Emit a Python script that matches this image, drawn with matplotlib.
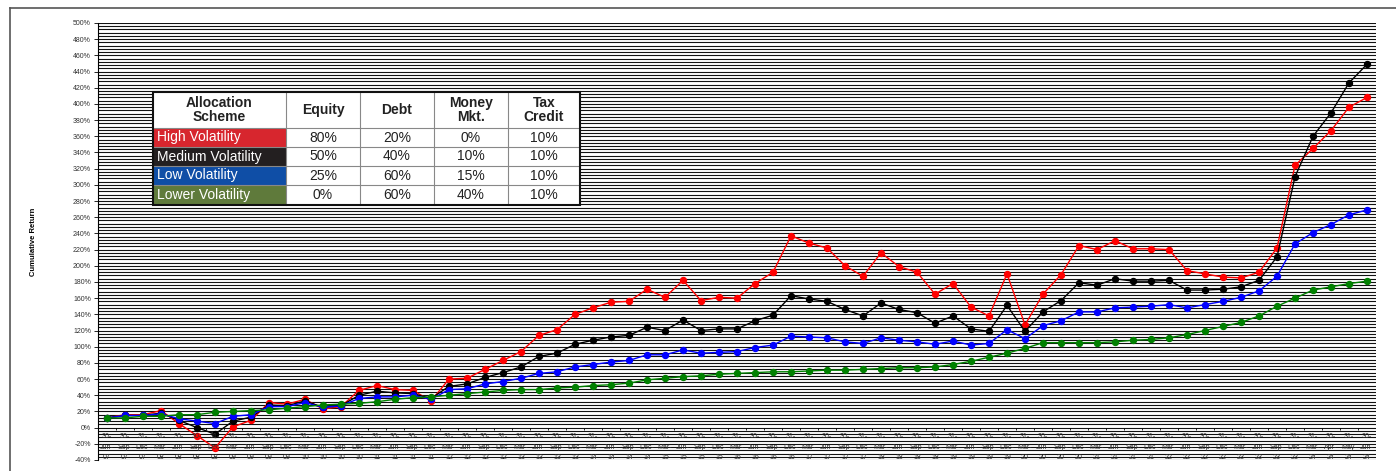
import numpy as np
import matplotlib
matplotlib.use('Agg')
import matplotlib.pyplot as plt
from matplotlib.patches import Rectangle
from matplotlib.lines import Line2D

# quarter end dates shown under the axis
days = ['30-', '30-', '31-', '31-'] * 17
months = ['Jun-', 'Sep-', 'Dec-', 'Mar-'] * 17
years = ['07', '07', '07'] + ['%02d' % y for y in range(8, 24) for _ in range(4)]
days = days[:68] + ['30-', '31-', '30-']
months = months[:67] + ['Mar-', 'Apr-', 'May-', 'Jun-']
years = years[:67] + ['24', '24', '24', '24']

high_vol = [12, 16, 16, 21, 5, -10, -25, 1, 9, 31, 29, 35, 23, 26, 46, 52, 47, 46, 33, 60,
            61, 72, 83, 94, 114, 121, 140, 148, 155, 156, 171, 161, 182, 157, 161, 160, 178, 192, 237, 228,
            222, 200, 187, 216, 199, 192, 165, 178, 149, 138, 190, 127, 165, 189, 225, 220, 231, 221, 221, 220,
            194, 190, 186, 185, 192, 222, 324, 345, 367, 396, 408]
medium_vol = [12, 15, 15, 18, 9, 0, -8, 8, 13, 28, 27, 33, 25, 27, 40, 45, 43, 42, 36, 51,
              54, 62, 68, 75, 88, 92, 103, 108, 112, 114, 124, 120, 133, 120, 122, 122, 132, 139, 163, 159,
              156, 146, 138, 154, 146, 142, 129, 138, 122, 119, 151, 119, 143, 157, 179, 176, 184, 181, 181, 182,
              170, 170, 171, 174, 182, 211, 310, 360, 389, 426, 449]
low_vol = [12, 15, 15, 17, 11, 8, 5, 14, 16, 26, 26, 31, 25, 27, 36, 38, 38, 40, 35, 47,
           48, 54, 57, 61, 67, 69, 75, 78, 81, 83, 90, 90, 96, 92, 93, 94, 99, 102, 113, 112,
           111, 106, 104, 111, 108, 106, 103, 107, 102, 104, 121, 110, 126, 132, 143, 143, 148, 149, 150, 152,
           148, 152, 156, 161, 169, 187, 227, 241, 251, 263, 269]
lower_vol = [12, 12, 14, 14, 16, 16, 19, 20, 21, 22, 24, 26, 28, 29, 30, 32, 35, 37, 38, 40,
             42, 44, 46, 47, 47, 49, 50, 52, 53, 55, 59, 61, 63, 64, 66, 67, 68, 69, 69, 70,
             71, 71, 72, 73, 74, 74, 75, 78, 82, 87, 92, 98, 105, 105, 105, 105, 106, 108, 109, 111,
             115, 120, 125, 130, 138, 150, 160, 170, 174, 178, 181]

# allocation table
schemes = ['High Volatility', 'Medium Volatility', 'Low Volatility', 'Lower Volatility']
scheme_colors = ['#d7262e', '#231f20', '#0f4ea6', '#5f7a3b']
equity = ['80%', '50%', '25%', '0%']
debt = ['20%', '40%', '60%', '60%']
money_mkt = ['0%', '10%', '15%', '40%']
tax_credit = ['10%', '10%', '10%', '10%']
headers = ['Allocation\nScheme', 'Equity', 'Debt', 'Money\nMkt.', 'Tax\nCredit']

W, H = 1396, 471


def px(x, y):
    return x / W, 1 - y / H


def main():
    plt.rcParams['font.family'] = ['Liberation Sans', 'DejaVu Sans']
    fig = plt.figure(figsize=(W / 100, H / 100), dpi=100)
    l, t = px(98, 23)
    r, b = px(1376, 460)
    ax = fig.add_axes([l, b, r - l, t - b])

    n = len(high_vol)
    x = np.arange(n)

    # dense horizontal gridlines
    for g in np.arange(-40, 501, 4):
        ax.axhline(g, color='#111111', lw=0.8, zorder=1)

    ax.plot(x, high_vol, color='#ff0000', marker='o', ms=4.3, lw=1, zorder=3)
    ax.plot(x, medium_vol, color='black', marker='o', ms=4.3, lw=1, zorder=3)
    ax.plot(x, low_vol, color='#0000ff', marker='o', ms=4.3, lw=1, zorder=3)
    ax.plot(x, lower_vol, color='#008000', marker='o', ms=4.3, lw=1, zorder=3)

    ax.set_xlim(-0.5, n - 0.5)
    ax.set_ylim(-40, 500)
    ax.set_yticks(np.arange(-40, 501, 20))
    ax.set_yticklabels(['%d%%' % v for v in np.arange(-40, 501, 20)], fontsize=5, color='#333333')
    ax.tick_params(axis='y', length=3, width=0.6, pad=2)
    ax.set_xticks([])
    for s in ['top', 'right', 'bottom']:
        ax.spines[s].set_visible(False)
    ax.spines['left'].set_linewidth(0.8)

    # category axis at 0% with labels inside the negative area
    ax.vlines(np.arange(n) + 0.5, -3.5, 0, color='black', lw=0.6, zorder=2)
    for i in range(n):
        ax.text(i, -11.5, days[i], ha='center', va='center', fontsize=5, color='#333333', zorder=4)
        ax.text(i, -24.5, months[i], ha='center', va='center', fontsize=5, color='#333333', zorder=4)
        ax.text(i, -37.2, years[i], ha='center', va='center', fontsize=5, color='#333333', zorder=4)

    ax.set_ylabel('Cumulative Return', fontsize=5.5, fontweight='bold', labelpad=26)

    # outer chart border
    fig.add_artist(Line2D([10 / W, 10 / W], [0, 1 - 8 / H], color='#555555', lw=1.2))
    fig.add_artist(Line2D([10 / W, 1], [1 - 8 / H, 1 - 8 / H], color='#555555', lw=1.2))

    # allocation table
    cols = [153, 286, 360, 434, 508, 580]
    rows = [92, 128, 147, 166, 185, 205]
    x0, y0 = px(cols[0], rows[-1])
    x1, y1 = px(cols[-1], rows[0])
    fig.add_artist(Rectangle((x0, y0), x1 - x0, y1 - y0, facecolor='white', edgecolor='none', zorder=5))
    for j, h in enumerate(headers):
        cx, cy = px((cols[j] + cols[j + 1]) / 2, (rows[0] + rows[1]) / 2)
        fig.text(cx, cy, h, ha='center', va='center', fontsize=10, fontweight='bold',
                 linespacing=0.95, color='#222222', zorder=7)
    table_cols = [equity, debt, money_mkt, tax_credit]
    for i, sch in enumerate(schemes):
        rx, ry = px(cols[0], rows[i + 2])
        rx2, ry2 = px(cols[1], rows[i + 1])
        fig.add_artist(Rectangle((rx, ry), rx2 - rx, ry2 - ry, facecolor=scheme_colors[i],
                                 edgecolor='none', zorder=6))
        tx, ty = px(cols[0] + 4, (rows[i + 1] + rows[i + 2]) / 2)
        fig.text(tx, ty, sch, ha='left', va='center', fontsize=10, color='white', zorder=7)
        for j, colvals in enumerate(table_cols):
            cx, cy = px((cols[j + 1] + cols[j + 2]) / 2, (rows[i + 1] + rows[i + 2]) / 2)
            fig.text(cx, cy, colvals[i], ha='center', va='center', fontsize=10, color='#222222', zorder=7)
    for c in cols[1:-1]:
        fig.add_artist(Line2D([c / W, c / W], [y0, y1], color='#888888', lw=0.8, zorder=8))
    for rr in rows[1:-1]:
        fig.add_artist(Line2D([x0, x1], [1 - rr / H, 1 - rr / H], color='#888888', lw=0.8, zorder=8))
    fig.add_artist(Rectangle((x0, y0), x1 - x0, y1 - y0, facecolor='none', edgecolor='#111111',
                             lw=1.5, zorder=9))

    fig.savefig('out.png', dpi=100)


if __name__ == "__main__":
    main()
